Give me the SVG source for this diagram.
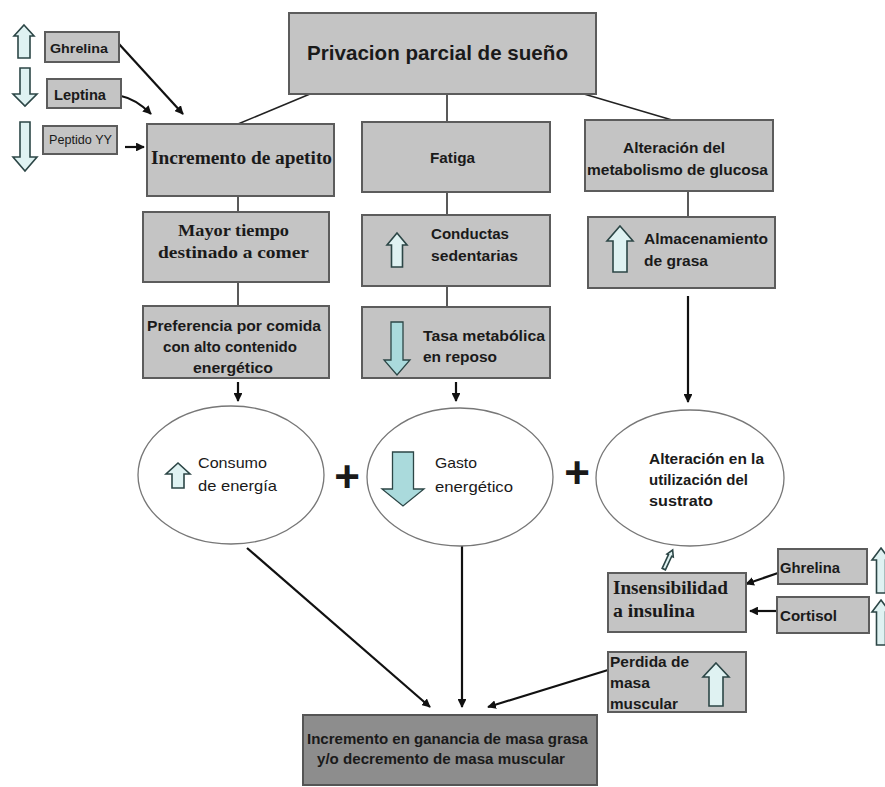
<svg xmlns="http://www.w3.org/2000/svg" width="885" height="787" viewBox="0 0 885 787">
<defs>
<marker id="ah" viewBox="0 0 10 10" refX="9" refY="5" markerWidth="4" markerHeight="4" orient="auto" markerUnits="strokeWidth">
<path d="M0,0 L10,5 L0,10 z" fill="#111"/>
</marker>
<style>
.box{fill:#c4c4c4;stroke:#5c5c5c;stroke-width:2}
.dark{fill:#8d8d8d;stroke:#555;stroke-width:2}
.ell{fill:#fff;stroke:#777;stroke-width:1.3}
.t{font-family:"Liberation Sans",Arial,sans-serif;font-weight:bold;fill:#1a1a1a}
.r{font-family:"Liberation Sans",Arial,sans-serif;fill:#1a1a1a}
.s{font-family:"Liberation Serif","Times New Roman",serif;font-weight:bold;fill:#1a1a1a}
.up{fill:#dff2f2;stroke:#2c4646;stroke-width:1.6;stroke-linejoin:miter}
.dn{fill:#aadadc;stroke:#2c4646;stroke-width:1.3}
.ln{stroke:#222;stroke-width:1.5;fill:none}
.ar{stroke:#111;stroke-width:2.2;fill:none;marker-end:url(#ah)}
</style>
</defs>
<rect width="885" height="787" fill="#fff"/>

<g id="connectors">
<line class="ln" x1="310" y1="94" x2="238" y2="124"/>
<line class="ln" x1="447" y1="94" x2="447" y2="122"/>
<line class="ln" x1="584" y1="94" x2="672" y2="120"/>
<line class="ln" x1="238" y1="196" x2="238" y2="212"/>
<line class="ln" x1="238" y1="282" x2="238" y2="306"/>
<line class="ln" x1="447" y1="192" x2="447" y2="215"/>
<line class="ln" x1="447" y1="286" x2="447" y2="307"/>
<line class="ln" x1="688" y1="191" x2="688" y2="217"/>
<line class="ar" x1="238" y1="382" x2="238" y2="401"/>
<line class="ar" x1="456" y1="382" x2="456" y2="401"/>
<line class="ar" x1="688" y1="296" x2="688" y2="402"/>
<line class="ar" x1="119" y1="44" x2="183" y2="114"/>
<path class="ar" d="M121,96 Q136,99 151,114"/>
<line class="ar" x1="125" y1="147" x2="144" y2="147"/>
<line class="ar" x1="778" y1="573" x2="746" y2="584"/>
<line class="ar" x1="777" y1="611" x2="750" y2="611"/>
<line class="ar" x1="247" y1="548" x2="430" y2="707"/>
<line class="ar" x1="462" y1="546" x2="462" y2="707"/>
<line class="ar" x1="608" y1="670" x2="488" y2="707"/>
</g>

<g id="privacion">
<rect class="box" x="289" y="13" width="307" height="81"/>
<text class="t" x="307" y="60" font-size="21" textLength="261" lengthAdjust="spacingAndGlyphs">Privacion parcial de sueño</text>
</g>

<g id="ghrelina-izq">
<polygon class="up" points="24,25 34,36 30,36 30,58 18,58 18,36 14,36"/>
<rect class="box" x="45" y="32" width="74" height="30"/>
<text class="t" x="50" y="53" font-size="13" textLength="58" lengthAdjust="spacingAndGlyphs">Ghrelina</text>
</g>
<g id="leptina">
<polygon class="up" points="20,68 30,68 30,94 37,94 25,106 13,94 20,94"/>
<rect class="box" x="47" y="79" width="74" height="29"/>
<text class="t" x="54" y="100" font-size="14" textLength="52" lengthAdjust="spacingAndGlyphs">Leptina</text>
</g>
<g id="peptido">
<polygon class="up" points="20,122 30,122 30,157 37,157 25,171 13,157 20,157"/>
<rect class="box" x="43" y="126" width="74" height="28"/>
<text class="r" x="49" y="144" font-size="12" textLength="63" lengthAdjust="spacingAndGlyphs">Peptido YY</text>
</g>

<g id="incremento-apetito">
<rect class="box" x="147" y="124" width="187" height="72"/>
<text class="s" x="151" y="164" font-size="18" textLength="181" lengthAdjust="spacingAndGlyphs">Incremento de apetito</text>
</g>
<g id="fatiga">
<rect class="box" x="362" y="122" width="188" height="70"/>
<text class="t" x="430" y="163" font-size="15" textLength="45" lengthAdjust="spacingAndGlyphs">Fatiga</text>
</g>
<g id="alteracion-glucosa">
<rect class="box" x="585" y="120" width="188" height="71"/>
<text class="t" x="623" y="153" font-size="15" textLength="102" lengthAdjust="spacingAndGlyphs">Alteración del</text>
<text class="t" x="587" y="175" font-size="15" textLength="181" lengthAdjust="spacingAndGlyphs">metabolismo de glucosa</text>
</g>

<g id="mayor-tiempo">
<rect class="box" x="143" y="212" width="186" height="70"/>
<text class="s" x="178" y="236" font-size="17" textLength="111" lengthAdjust="spacingAndGlyphs">Mayor tiempo</text>
<text class="s" x="158" y="258" font-size="17" textLength="151" lengthAdjust="spacingAndGlyphs">destinado a comer</text>
</g>
<g id="preferencia">
<rect class="box" x="143" y="306" width="186" height="72"/>
<text class="t" x="147" y="331" font-size="15" textLength="174" lengthAdjust="spacingAndGlyphs">Preferencia por comida</text>
<text class="t" x="163" y="352" font-size="15" textLength="134" lengthAdjust="spacingAndGlyphs">con alto contenido</text>
<text class="t" x="193" y="373" font-size="15" textLength="80" lengthAdjust="spacingAndGlyphs">energético</text>
</g>

<g id="conductas">
<rect class="box" x="362" y="215" width="188" height="71"/>
<polygon class="up" points="397,233 407,245 402.5,245 402.5,267 391.5,267 391.5,245 387,245"/>
<text class="t" x="431" y="239" font-size="15" textLength="78" lengthAdjust="spacingAndGlyphs">Conductas</text>
<text class="t" x="431" y="261" font-size="15" textLength="87" lengthAdjust="spacingAndGlyphs">sedentarias</text>
</g>
<g id="tasa">
<rect class="box" x="362" y="307" width="188" height="71"/>
<polygon class="dn" points="391,322 403,322 403,360 410,360 397,375 384,360 391,360"/>
<text class="t" x="423" y="341" font-size="15" textLength="122" lengthAdjust="spacingAndGlyphs">Tasa metabólica</text>
<text class="t" x="423" y="362" font-size="15" textLength="74" lengthAdjust="spacingAndGlyphs">en reposo</text>
</g>

<g id="almacenamiento">
<rect class="box" x="588" y="217" width="187" height="71"/>
<polygon class="up" points="620,226 633,241 627,241 627,272 613,272 613,241 607,241"/>
<text class="t" x="644" y="244" font-size="15" textLength="124" lengthAdjust="spacingAndGlyphs">Almacenamiento</text>
<text class="t" x="644" y="266" font-size="15" textLength="64" lengthAdjust="spacingAndGlyphs">de grasa</text>
</g>

<g id="consumo">
<ellipse class="ell" cx="231" cy="475" rx="93" ry="69"/>
<polygon class="up" points="178,463 190,474 184,474 184,488 172,488 172,474 166,474"/>
<text class="r" x="198" y="468" font-size="15" textLength="69" lengthAdjust="spacingAndGlyphs">Consumo</text>
<text class="r" x="198" y="491" font-size="15" textLength="79" lengthAdjust="spacingAndGlyphs">de energía</text>
</g>
<text id="plus1" class="t" x="347" y="492" font-size="44" text-anchor="middle">+</text>
<g id="gasto">
<ellipse class="ell" cx="460" cy="477" rx="93" ry="69"/>
<polygon class="dn" points="392.5,452 413.5,452 413.5,489 424,489 403,506 382,489 392.5,489"/>
<text class="r" x="435" y="468" font-size="15" textLength="42" lengthAdjust="spacingAndGlyphs">Gasto</text>
<text class="r" x="435" y="492" font-size="15" textLength="78" lengthAdjust="spacingAndGlyphs">energético</text>
</g>
<text id="plus2" class="t" x="577" y="488" font-size="44" text-anchor="middle">+</text>
<g id="alteracion-sustrato">
<ellipse class="ell" cx="690" cy="478" rx="94" ry="68"/>
<text class="t" x="649" y="464" font-size="14.5" textLength="115" lengthAdjust="spacingAndGlyphs">Alteración en la</text>
<text class="t" x="649" y="485" font-size="14.5" textLength="99" lengthAdjust="spacingAndGlyphs">utilización del</text>
<text class="t" x="649" y="506" font-size="14.5" textLength="64" lengthAdjust="spacingAndGlyphs">sustrato</text>
</g>

<polygon id="flecha-pequena" class="up" stroke-width="1.2" transform="translate(668,560) rotate(25)" points="0,-11 3.5,-5 1.8,-5 1.8,10 -1.8,10 -1.8,-5 -3.5,-5"/>

<g id="insensibilidad">
<rect class="box" x="608" y="573" width="138" height="59"/>
<text class="s" x="613" y="594" font-size="18" textLength="115" lengthAdjust="spacingAndGlyphs">Insensibilidad</text>
<text class="s" x="613" y="617" font-size="18" textLength="82" lengthAdjust="spacingAndGlyphs">a insulina</text>
</g>
<g id="ghrelina-der">
<rect class="box" x="778" y="549" width="89" height="35"/>
<text class="t" x="780" y="573" font-size="15" textLength="60" lengthAdjust="spacingAndGlyphs">Ghrelina</text>
<polygon class="up" points="881,548 890,560 885.5,560 885.5,593 876.5,593 876.5,560 872,560"/>
</g>
<g id="cortisol">
<rect class="box" x="777" y="597" width="92" height="36"/>
<text class="t" x="780" y="621" font-size="15" textLength="57" lengthAdjust="spacingAndGlyphs">Cortisol</text>
<polygon class="up" points="881,600 890,612 885.5,612 885.5,645 876.5,645 876.5,612 872,612"/>
</g>

<g id="perdida">
<rect class="box" x="608" y="652" width="138" height="60"/>
<text class="t" x="610" y="667" font-size="15" textLength="79" lengthAdjust="spacingAndGlyphs">Perdida de</text>
<text class="t" x="610" y="688" font-size="15" textLength="40" lengthAdjust="spacingAndGlyphs">masa</text>
<text class="t" x="610" y="709" font-size="15" textLength="68" lengthAdjust="spacingAndGlyphs">muscular</text>
<polygon class="up" points="716,663 729,677 723,677 723,706 709,706 709,677 703,677"/>
</g>

<g id="resultado">
<rect class="dark" x="303" y="715" width="294" height="70"/>
<text class="t" x="307" y="744" font-size="14" textLength="281" lengthAdjust="spacingAndGlyphs">Incremento en ganancia de masa grasa</text>
<text class="t" x="317" y="764" font-size="14" textLength="248" lengthAdjust="spacingAndGlyphs">y/o decremento de masa muscular</text>
</g>
</svg>
